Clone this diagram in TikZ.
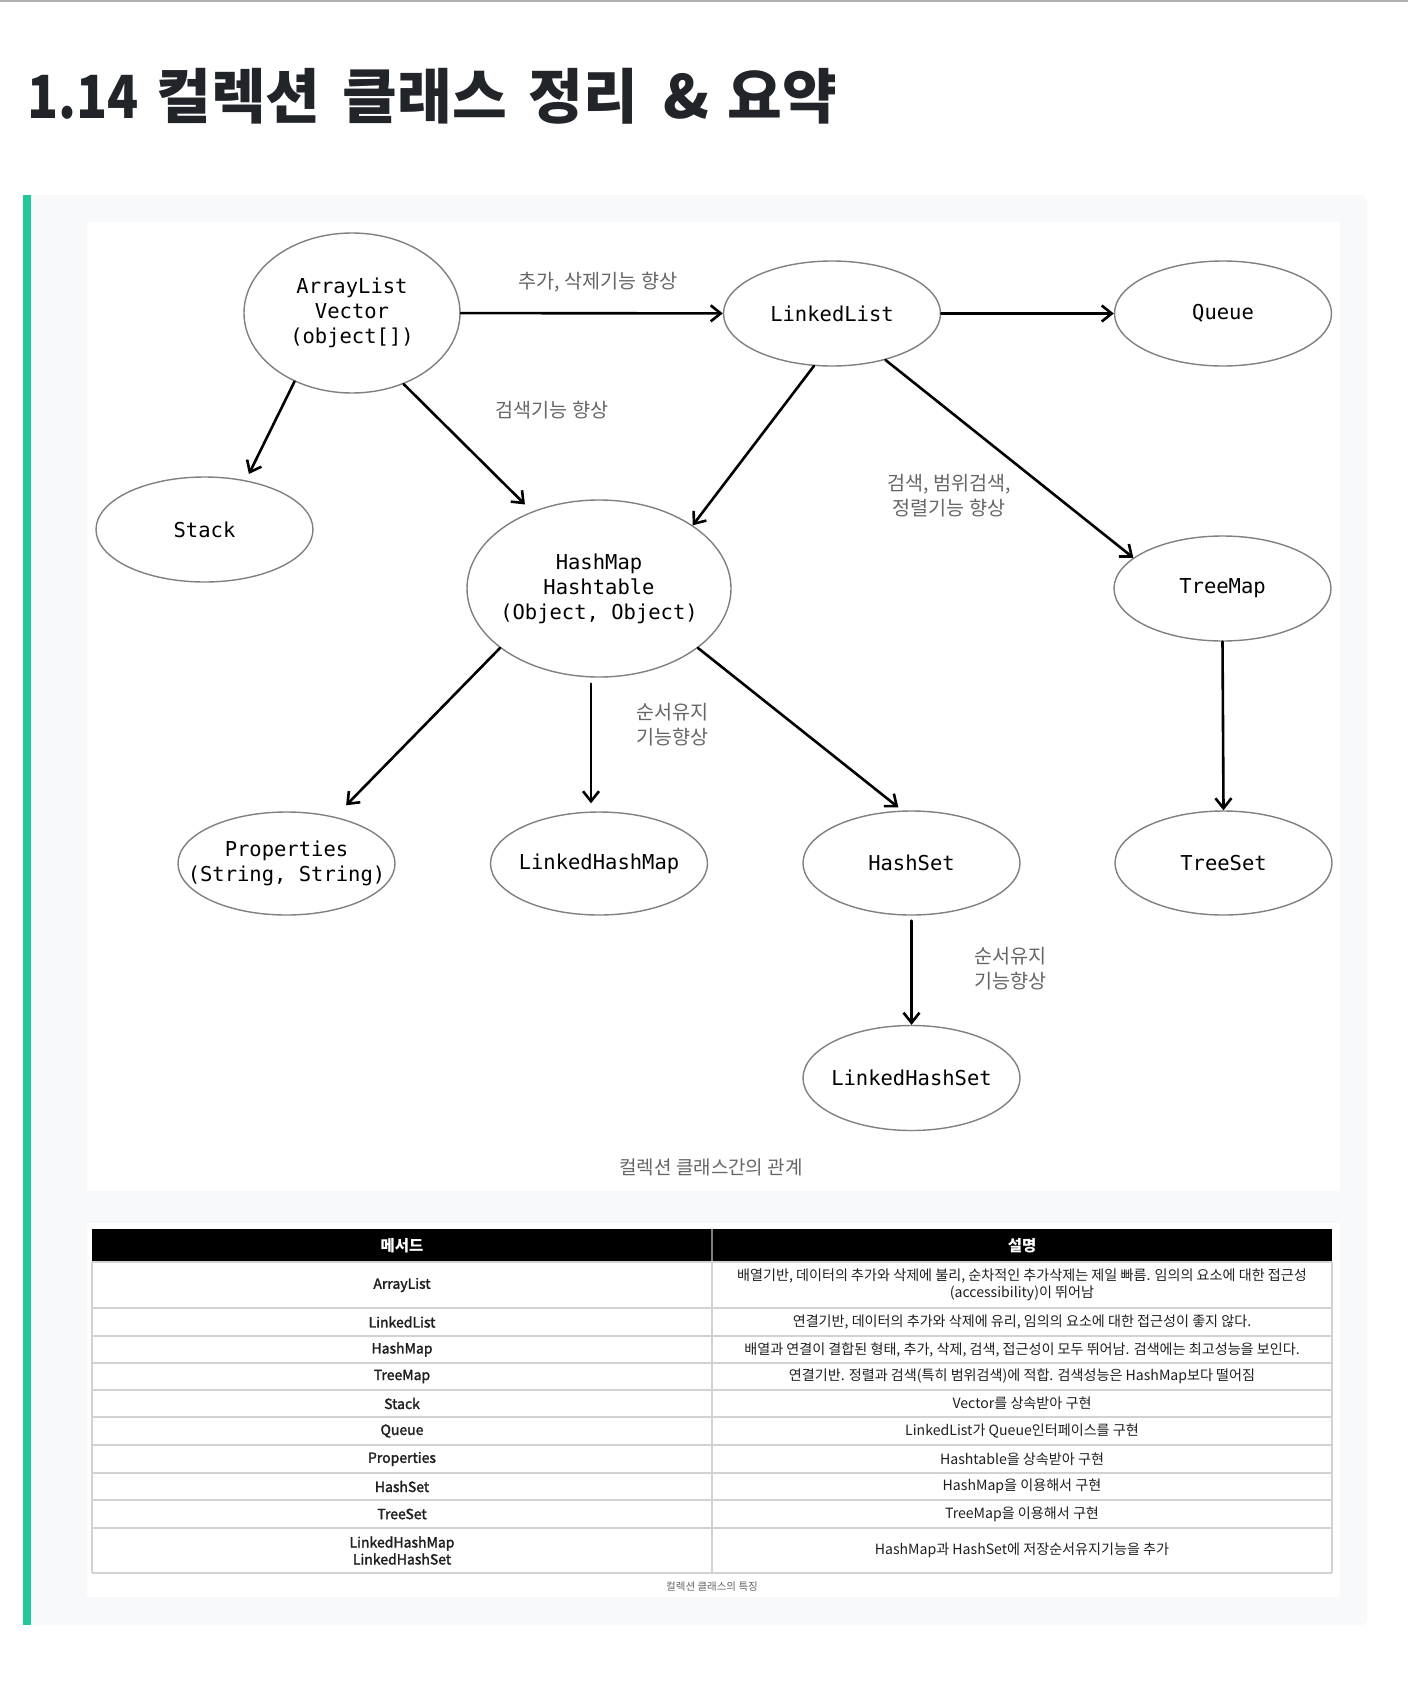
\documentclass[tikz,border=0pt]{standalone}
\usepackage{fontspec}
\usetikzlibrary{arrows.meta,shapes.geometric}

\newfontfamily\krfont{Noto Sans CJK KR}
\newfontfamily\krmedfont[FakeBold=1.8]{Noto Sans CJK KR}
\newfontfamily\nodefont{DejaVu Sans Mono}

\definecolor{pagebg}{HTML}{F8F9FA}
\definecolor{accent}{HTML}{20C997}
\definecolor{titleink}{HTML}{212529}
\definecolor{labelgray}{HTML}{666666}
\definecolor{rim}{HTML}{808080}
\definecolor{gridgray}{HTML}{D2D2D2}
\definecolor{topline}{HTML}{B0B0B0}

\newcommand{\wordgap}[1][0.37em]{\hspace{#1}}

\tikzset{
  cls/.style={ellipse, draw=rim, line width=1.4pt, inner xsep=-60pt, inner ysep=-20pt,
    minimum width=217pt, minimum height=105pt, align=center, text=black,
    font={\nodefont\fontsize{20.5}{25}\selectfont}},
  rel/.style={-{Straight Barb[length=10pt,width=16pt]}, line width=2.6pt, line cap=round},
  note/.style={inner sep=0pt, align=center, text=labelgray,
    font={\krfont\fontsize{19.6}{25}\selectfont}},
  cellname/.style={inner sep=0pt, align=center, text=black!88,
    font={\krmedfont\fontsize{14}{17}\selectfont}},
  celltext/.style={inner sep=0pt, align=center, text=black!88,
    font={\krfont\fontsize{14.1}{17}\selectfont}},
  headtext/.style={inner sep=0pt, text=white,
    font={\krfont\bfseries\fontsize{15.5}{18}\selectfont}},
  grid/.style={draw=gridgray, line width=1.8pt},
}

\begin{document}
\begin{tikzpicture}[x=1pt, y=-1pt]
\useasboundingbox (0,0) rectangle (1408,1702);
\fill[white] (0,0) rectangle (1408,1702);
\draw[topline, line width=2pt] (0,1) -- (1408,1);

% heading
\node[anchor=base west, inner sep=0pt, text=titleink,
  font={\krfont\bfseries\fontsize{59.5}{63}\selectfont}] (title) at (27,118)
  {\scalebox{0.86}[1]{1.14}\wordgap[0.3em]컬렉션\wordgap 클래스\wordgap 정리\wordgap[0.42em]\&\wordgap[0.3em]요약};

% quote panel with accent bar
\fill[pagebg, rounded corners=6pt] (24,195) rectangle (1367,1625);
\fill[accent] (23,195) rectangle (31,1625);

% white sheets
\fill[white] (87,222) rectangle (1340,1191);
\fill[white] (87,1223) rectangle (1340,1597);

% ---- class relation diagram ----
\node[cls, minimum width=216pt, minimum height=160pt] (arr) at (352,313) {ArrayList\\Vector\\(object[])};
\node[cls] (ll)  at (832,313.5)  {LinkedList};
\node[cls] (que) at (1223,313.5) {Queue};
\node[cls] (stk) at (204.5,529.5) {Stack};
\node[cls, minimum width=264pt, minimum height=177pt] (hm) at (599,588.5) {HashMap\\Hashtable\\(Object, Object)};
\node[cls] (tm)  at (1222.5,588.5) {TreeMap};
\node[cls, minimum height=103pt] (prop) at (286.5,863.5) {Properties\\(String, String)};
\node[cls, minimum height=103pt] (lhm)  at (599,863.5) {LinkedHashMap};
\node[cls, minimum height=104pt] (hs)   at (911.5,863) {HashSet};
\node[cls, minimum height=104pt] (ts)   at (1223.5,863) {TreeSet};
\node[cls] (lhs) at (911.5,1078) {LinkedHashSet};

\draw[rel] (arr) -- (ll);
\draw[rel] (ll) -- (que);
\draw[rel, shorten >=7pt] (arr.230.6) -- (stk.50.8);
\draw[rel, shorten >=10pt] (arr.306) -- (hm.131.9);
\draw[rel] (ll.251.4) -- (hm.34.7);
\draw[rel] (ll.319.4) -- (tm.161);
\draw[rel] (tm.south) -- (ts.north);
\draw[rel, shorten >=16pt] (hm.211.5) -- (prop.44.8);
\draw[rel, shorten <=6pt, shorten >=8pt] ([xshift=-8pt]hm.south) -- ([xshift=-8pt]lhm.north);
\draw[rel, shorten >=5pt] (hm.329.4) -- (hs.100.3);
\draw[rel, shorten <=5pt] (hs.south) -- (lhs.north);

\node[note] (lb1) at (598,282) {추가, 삭제기능 향상};
\node[note] (lb2) at (552,410) {검색기능 향상};
\node[note] (lb3) at (949,496) {검색, 범위검색,\\정렬기능 향상};
\node[note, anchor=west, align=left] (lb4) at (636,725) {순서유지\\기능향상};
\node[note, anchor=west, align=left] (lb5) at (974,969) {순서유지\\기능향상};
\node[note, font={\krfont\fontsize{19}{24}\selectfont}] (cap1) at (711,1167) {컬렉션 클래스간의 관계};

% ---- feature table ----
\fill[black] (92,1229) rectangle (1332,1262);
\draw[draw=gray, line width=1.2pt] (712,1229) -- (712,1262);
\foreach \yy in {1262,1308,1336,1363,1390,1417,1445,1473,1500,1528,1573}
  \draw[grid] (92,\yy) -- (1332,\yy);
\foreach \xx in {92,712,1332}
  \draw[grid] (\xx,1262) -- (\xx,1573);

\node[headtext] (h1) at (402,1245.5) {메서드};
\node[headtext] (h2) at (1022,1245.5) {설명};

\node[cellname] (n1)  at (402,1285)   {ArrayList};
\node[cellname] (n2)  at (402,1322)   {LinkedList};
\node[cellname] (n3)  at (402,1349.5) {HashMap};
\node[cellname] (n4)  at (402,1376.5) {TreeMap};
\node[cellname] (n5)  at (402,1403.5) {Stack};
\node[cellname] (n6)  at (402,1431)   {Queue};
\node[cellname] (n7)  at (402,1459)   {Properties};
\node[cellname] (n8)  at (402,1486.5) {HashSet};
\node[cellname] (n9)  at (402,1514)   {TreeSet};
\node[cellname] (n10) at (402,1550.5) {LinkedHashMap\\LinkedHashSet};

\node[celltext] (d1)  at (1022,1285)   {배열기반, 데이터의 추가와 삭제에 불리, 순차적인 추가삭제는 제일 빠름. 임의의 요소에 대한 접근성\\(accessibility)이 뛰어남};
\node[celltext] (d2)  at (1022,1322)   {연결기반, 데이터의 추가와 삭제에 유리, 임의의 요소에 대한 접근성이 좋지 않다.};
\node[celltext] (d3)  at (1022,1349.5) {배열과 연결이 결합된 형태, 추가, 삭제, 검색, 접근성이 모두 뛰어남. 검색에는 최고성능을 보인다.};
\node[celltext] (d4)  at (1022,1376.5) {연결기반. 정렬과 검색(특히 범위검색)에 적합. 검색성능은 HashMap보다 떨어짐};
\node[celltext] (d5)  at (1022,1403.5) {Vector를 상속받아 구현};
\node[celltext] (d6)  at (1022,1431)   {LinkedList가 Queue인터페이스를 구현};
\node[celltext] (d7)  at (1022,1459)   {Hashtable을 상속받아 구현};
\node[celltext] (d8)  at (1022,1486.5) {HashMap을 이용해서 구현};
\node[celltext] (d9)  at (1022,1514)   {TreeMap을 이용해서 구현};
\node[celltext] (d10) at (1022,1550.5) {HashMap과 HashSet에 저장순서유지기능을 추가};

\node[inner sep=0pt, text=labelgray, font={\krfont\fontsize{10.5}{12}\selectfont}] (cap2) at (712,1587) {컬렉션 클래스의 특징};
\end{tikzpicture}
\end{document}
